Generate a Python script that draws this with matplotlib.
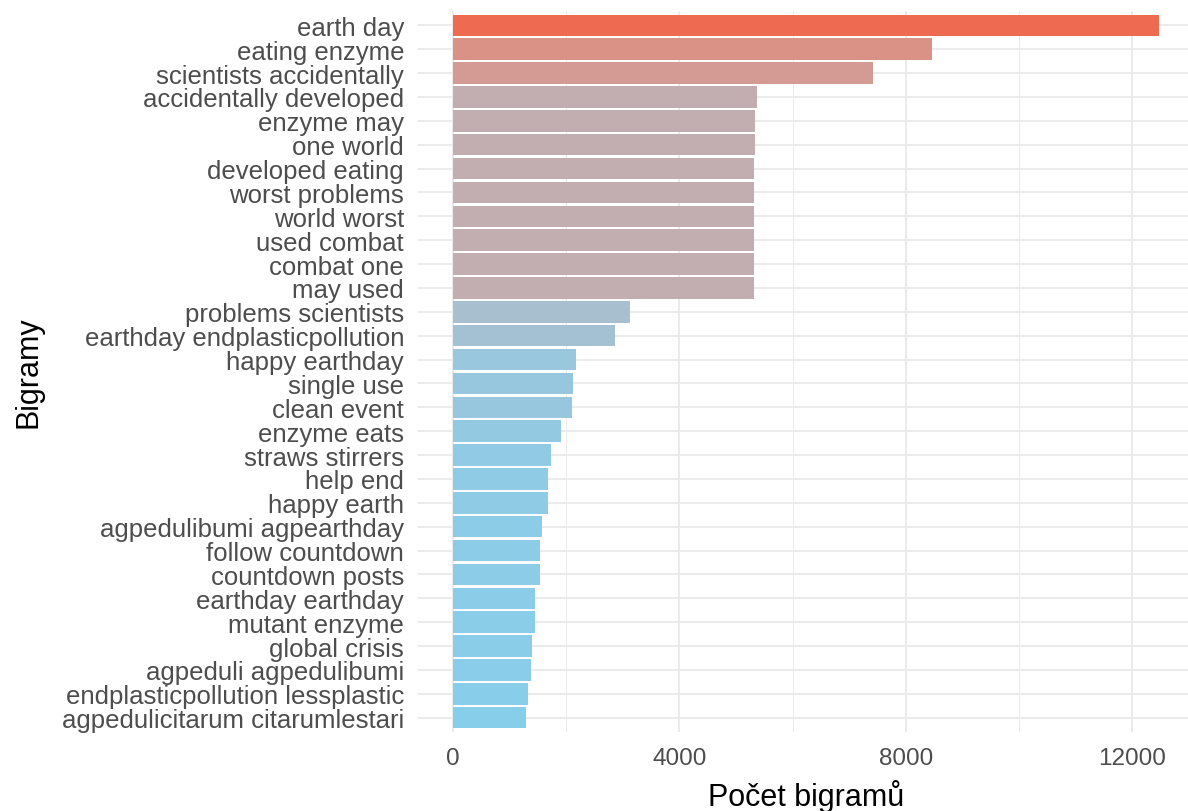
import numpy as np
import matplotlib
matplotlib.use("Agg")
import matplotlib.pyplot as plt
from matplotlib.ticker import FixedLocator

bigrams = [
    "earth day", "eating enzyme", "scientists accidentally", "accidentally developed",
    "enzyme may", "one world", "developed eating", "worst problems", "world worst",
    "used combat", "combat one", "may used", "problems scientists",
    "earthday endplasticpollution", "happy earthday", "single use", "clean event",
    "enzyme eats", "straws stirrers", "help end", "happy earth",
    "agpedulibumi agpearthday", "follow countdown", "countdown posts",
    "earthday earthday", "mutant enzyme", "global crisis", "agpeduli agpedulibumi",
    "endplasticpollution lessplastic", "agpedulicitarum citarumlestari",
]
counts = [
    12487, 8469, 7425, 5372,
    5335, 5330, 5324, 5322, 5321,
    5320, 5318, 5317, 3130,
    2858, 2162, 2109, 2103,
    1903, 1726, 1668, 1666,
    1561, 1538, 1536,
    1448, 1437, 1389, 1366,
    1313, 1283,
]
x_ticks = [0, 4000, 8000, 12000]
x_minor = [2000, 6000, 10000]
low_color = "#87CEEB"   # skyblue
high_color = "#EE6A50"  # coral2


def hex2rgb(h):
    h = h.lstrip("#")
    return np.array([int(h[i:i + 2], 16) / 255 for i in (0, 2, 4)])


def srgb2lab(c):
    c = np.where(c <= 0.04045, c / 12.92, ((c + 0.055) / 1.055) ** 2.4)
    M = np.array([[0.4124, 0.3576, 0.1805], [0.2126, 0.7152, 0.0722], [0.0193, 0.1192, 0.9505]])
    xyz = M @ c
    wp = np.array([0.95047, 1.0, 1.08883])
    t = xyz / wp
    f = np.where(t > (6 / 29) ** 3, np.cbrt(t), t / (3 * (6 / 29) ** 2) + 4 / 29)
    return np.array([116 * f[1] - 16, 500 * (f[0] - f[1]), 200 * (f[1] - f[2])])


def lab2srgb(lab):
    L, a, b = lab
    fy = (L + 16) / 116
    fx = fy + a / 500
    fz = fy - b / 200
    f = np.array([fx, fy, fz])
    t = np.where(f > 6 / 29, f ** 3, 3 * (6 / 29) ** 2 * (f - 4 / 29))
    xyz = t * np.array([0.95047, 1.0, 1.08883])
    Minv = np.array([[3.2406, -1.5372, -0.4986], [-0.9689, 1.8758, 0.0415], [0.0557, -0.2040, 1.0570]])
    c = Minv @ xyz
    c = np.where(c <= 0.0031308, 12.92 * c, 1.055 * np.clip(c, 0, None) ** (1 / 2.4) - 0.055)
    return np.clip(c, 0, 1)


lab_lo = srgb2lab(hex2rgb(low_color))
lab_hi = srgb2lab(hex2rgb(high_color))
vals = np.array(counts, dtype=float)
fr = (vals - vals.min()) / (vals.max() - vals.min())
colors = [lab2srgb(lab_lo + f * (lab_hi - lab_lo)) for f in fr]

plt.rcParams["font.family"] = ["Liberation Sans", "DejaVu Sans"]

W, H, DPI = 1188, 812, 100
fig = plt.figure(figsize=(W / DPI, H / DPI), dpi=DPI)
left, right, top, bottom = 418, 1188, 12, 733
ax = fig.add_axes([left / W, 1 - bottom / H, (right - left) / W, (bottom - top) / H])

n = len(bigrams)
ypos = np.arange(n)[::-1] + 1  # first item at top
ax.barh(ypos, counts, height=0.9, color=colors, edgecolor="none", zorder=2)

vmax = max(counts)
ax.set_xlim(-0.05 * vmax, 1.0405 * vmax)
ax.set_ylim(0.4, n + 0.6)

ax.set_yticks(ypos)
ax.set_yticklabels(bigrams)
ax.xaxis.set_major_locator(FixedLocator(x_ticks))
ax.xaxis.set_minor_locator(FixedLocator(x_minor))
ax.set_xticklabels([str(t) for t in x_ticks])

ax.grid(which="major", axis="both", color="#EBEBEB", linewidth=1.4, zorder=0)
ax.grid(which="minor", axis="x", color="#EBEBEB", linewidth=0.7, zorder=0)
ax.set_axisbelow(True)
for s in ax.spines.values():
    s.set_visible(False)
ax.tick_params(axis="both", which="both", length=0, labelcolor="#4D4D4D")
ax.tick_params(axis="y", pad=10, labelsize=18.5)
ax.tick_params(axis="x", pad=11, labelsize=17.5)

ax.set_xlabel("Počet bigramů", fontsize=22, color="black")
ax.set_ylabel("Bigramy", fontsize=22, color="black")
ax.xaxis.set_label_coords((806 - left) / (right - left), (bottom - 780) / (bottom - top))
ax.yaxis.set_label_coords((44 - left) / (right - left), 0.5)

fig.savefig("out.png", dpi=DPI, facecolor="white")
